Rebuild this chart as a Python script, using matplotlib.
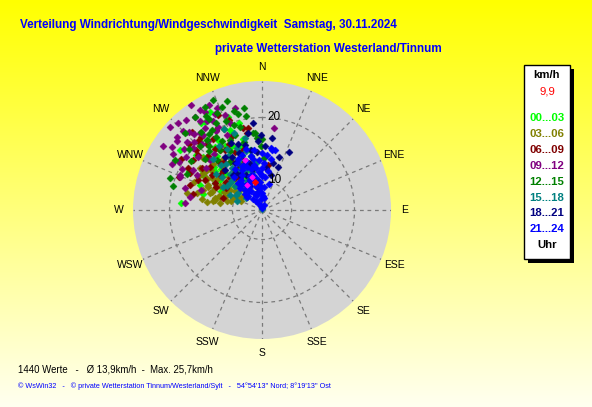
import matplotlib
matplotlib.use("Agg")
import matplotlib.pyplot as plt
import numpy as np
from matplotlib.patches import Rectangle

# wind direction (deg, clockwise from N) and speed (km/h), per 3-hour block
dir_00_03 = [275, 327, 325, 337, 345, 349, 355, 310, 323, 330, 331, 349, 304, 314, 304, 292, 318, 335,
             340, 310, 300, 320, 345, 315, 328, 338, 298, 306, 332, 322, 312, 295, 340, 325, 285,
             315, 325, 335, 320, 310, 330, 342, 305, 318, 328, 338, 312, 300, 322, 334]
spd_00_03 = [18.3, 21.9, 22.2, 18.3, 19.6, 15.0, 9.0, 11.0, 17.8, 14.9, 13.0, 13.0, 11.8, 17.4, 16.8, 16.0, 20.0, 16.5,
             21.0, 19.0, 14.0, 15.0, 17.0, 13.5, 11.5, 12.0, 18.5, 21.5, 23.0, 19.5, 15.5, 12.5, 14.5, 9.5, 15.0,
             14.5, 13.0, 14.0, 16.5, 15.0, 17.0, 16.0, 13.5, 12.0, 18.5, 19.0, 18.0, 16.0, 10.5, 11.0]

dir_03_06 = [285, 282, 302, 293, 303, 281, 287, 298, 304, 284, 299, 295, 289, 290, 296, 300, 306, 310, 308, 292,
             288, 280, 278, 284, 292, 305, 312, 315, 318, 301, 297, 313, 283, 279, 294, 307, 320, 286, 311, 322,
             305, 298, 310, 290, 300, 315, 295, 305, 288]
spd_03_06 = [16.0, 12.9, 11.3, 14.7, 14.7, 13.2, 12.3, 9.6, 17.2, 13.0, 15.3, 13.6, 15.2, 11.5, 12.0, 13.0, 12.5, 13.5, 15.5, 17.0,
             14.0, 15.0, 14.2, 11.0, 10.2, 10.5, 11.0, 12.8, 14.5, 16.5, 16.8, 16.0, 17.5, 12.0, 9.0, 9.0, 12.0, 10.5, 17.8, 15.5,
             14.0, 11.5, 12.0, 13.8, 15.5, 10.0, 14.8, 16.2, 12.5]

dir_06_09 = [297, 289, 287, 350, 317, 314, 325, 332, 349, 342, 306, 300, 311, 347, 8, 320, 310, 305, 315, 322,
             328, 335, 338, 330, 318, 312, 302, 295, 300, 308, 320, 326, 292, 315, 325, 340, 335, 296, 283, 344,
             318, 328, 310, 322, 333, 305, 315, 325, 298, 302, 338, 330, 312, 320]
spd_06_09 = [18.2, 17.4, 11.8, 18.5, 20.2, 17.2, 16.9, 12.1, 17.8, 15.3, 18.9, 18.8, 18.7, 18.7, 12.5, 19.0, 16.0, 15.0, 14.0, 15.0,
             14.5, 15.5, 18.0, 20.0, 22.0, 21.0, 20.5, 16.5, 14.0, 12.5, 12.0, 11.5, 19.5, 17.5, 19.0, 20.5, 22.0, 13.5, 16.5, 13.0,
             15.5, 16.5, 14.0, 17.5, 17.0, 17.0, 12.5, 13.0, 15.5, 12.0, 14.0, 12.8, 19.5, 20.5]

dir_09_12 = [326, 330, 334, 339, 328, 331, 311, 309, 312, 317, 321, 325, 332, 330, 8, 297, 292, 280, 297, 293,
             275, 318, 322, 315, 305, 300, 310, 320, 324, 316, 333, 336, 340, 302, 298, 307, 314, 286, 288, 327,
             319, 335, 303, 312, 345, 318, 325, 312, 308, 322, 328, 315, 305, 300]
spd_09_12 = [25.5, 23.3, 22.3, 21.5, 21.9, 21.5, 23.1, 22.7, 21.4, 22.2, 21.0, 21.2, 20.3, 19.8, 18.5, 21.3, 19.3, 16.9, 19.5, 19.5,
             17.6, 19.5, 19.2, 20.5, 20.0, 18.0, 18.5, 24.0, 23.5, 24.5, 24.0, 23.0, 20.0, 22.0, 17.0, 16.5, 16.8, 18.0, 15.5, 17.5,
             17.0, 18.5, 24.0, 25.0, 22.0, 21.5, 22.5, 20.0, 21.0, 20.5, 24.0, 23.0, 22.8, 20.5]

dir_12_15 = [339, 350, 289, 300, 0, 355, 350, 344, 335, 329, 328, 356, 353, 359, 345, 340, 335, 330, 325, 320,
             332, 338, 345, 322, 316, 310, 305, 312, 318, 326, 334, 342, 336, 331, 324, 296, 285, 2, 348, 315,
             332, 338, 328, 342, 322, 335, 346, 318, 330, 325]
spd_12_15 = [22.9, 21.8, 20.7, 21.3, 16.6, 17.6, 20.4, 21.6, 22.3, 22.7, 20.3, 16.8, 17.6, 15.5, 19.0, 18.0, 19.5, 18.0, 17.0, 18.5,
             16.0, 15.0, 16.5, 21.0, 19.5, 20.5, 19.0, 17.5, 16.0, 14.5, 13.5, 23.5, 24.5, 24.0, 23.5, 18.5, 20.0, 13.6, 14.0, 22.5,
             21.0, 20.5, 19.0, 19.5, 19.5, 17.5, 21.0, 18.0, 22.0, 20.0]

dir_15_18 = [0, 320, 295, 305, 330, 340, 335, 325, 315, 345, 310, 300, 338, 328, 318, 350, 340, 312, 322, 332,
             308, 345, 300, 290, 335, 326, 316, 354, 347, 305,
             318, 328, 336, 310, 322, 330, 342, 305, 315, 325]
spd_15_18 = [5.5, 9.5, 10.9, 10.0, 12.5, 18.3, 14.0, 13.5, 12.0, 11.5, 13.5, 12.5, 16.0, 15.5, 15.0, 9.0, 8.0, 11.0, 11.0, 10.5,
             14.5, 15.0, 10.0, 9.5, 19.5, 17.5, 16.5, 13.0, 17.0, 8.5,
             13.0, 12.5, 12.0, 12.0, 14.5, 16.5, 13.0, 12.0, 10.5, 10.0]

dir_18_21 = [354, 359, 25, 18, 13, 357, 8, 20, 3, 350, 345, 338, 330, 340, 325, 335, 348, 320, 355, 342,
             328, 15, 5, 352, 333, 317,
             335, 325, 345, 330, 340, 350, 320, 338, 348]
spd_18_21 = [19.2, 17.2, 15.5, 14.2, 13.0, 16.2, 16.8, 12.5, 15.5, 17.8, 16.0, 15.0, 14.0, 13.0, 15.5, 17.0, 12.0, 12.5, 14.5, 11.0,
             11.8, 11.0, 12.0, 10.0, 9.5, 14.0,
             11.5, 12.5, 12.8, 15.0, 16.5, 15.0, 11.0, 10.5, 9.0]

dir_21_24 = [0, 345, 20, 330, 355, 10, 320, 340, 0, 350, 310, 330, 5, 345, 320, 355, 335, 315, 350, 0,
             340, 325, 355, 8, 330, 345, 320, 350, 3, 338, 326, 356, 342, 10, 332, 348, 0, 340, 352, 8,
             345, 12, 335, 318, 312, 325, 350, 5, 15, 358, 336, 328, 344, 352, 333, 9, 5,
             338, 330, 345, 325, 350, 335, 322, 340, 315, 0, 358, 5]
spd_21_24 = [5.6, 6.0, 6.2, 6.5, 7.0, 7.2, 7.5, 7.8, 8.0, 8.3, 8.5, 8.8, 9.0, 9.2, 9.5, 9.8, 10.0, 10.3, 10.5, 10.7,
             11.0, 11.2, 11.4, 11.6, 11.8, 12.0, 12.2, 12.5, 12.7, 12.9, 13.1, 13.3, 13.5, 13.6, 13.8, 14.0, 14.3, 14.6, 14.9, 15.2,
             15.4, 15.0, 14.2, 11.0, 9.0, 7.0, 6.0, 7.5, 9.5, 11.0, 8.0, 10.0, 10.8, 12.0, 12.4, 15.0, 14.0,
             10.5, 9.5, 11.0, 9.0, 13.5, 13.0, 10.5, 12.5, 8.5, 12.0, 9.0, 10.5]

dir_extra = [343, 341, 329]
spd_extra = [10.8, 13.7, 9.9]
dir_now = [346]
spd_now = [9.9]

hour_labels = ["00...03", "03...06", "06...09", "09...12", "12...15", "15...18", "18...21", "21...24"]
hour_colors = ["#00ff00", "#808000", "#800000", "#800080", "#008000", "#008080", "#000080", "#0000ff"]
compass = ["N", "NNE", "NE", "ENE", "E", "ESE", "SE", "SSE",
           "S", "SSW", "SW", "WSW", "W", "WNW", "NW", "NNW"]
ring_values = [10, 20]

groups = [
    (dir_00_03, spd_00_03), (dir_03_06, spd_03_06), (dir_06_09, spd_06_09),
    (dir_09_12, spd_09_12), (dir_12_15, spd_12_15), (dir_15_18, spd_15_18),
    (dir_18_21, spd_18_21), (dir_21_24, spd_21_24),
]

r_min, r_max = 5.3, 25.8
W, H = 592, 407

fig = plt.figure(figsize=(5.92, 4.07), dpi=100)

# yellow background gradient
bg = fig.add_axes([0, 0, 1, 1])
grad = np.linspace(0, 1, 256)
img = np.ones((256, 1, 3))
img[:, 0, 2] = 0.94 * grad
bg.imshow(img, aspect="auto", extent=[0, 1, 0, 1], origin="upper")
bg.set_xlim(0, 1)
bg.set_ylim(0, 1)
bg.axis("off")

ax = fig.add_axes([0.2247, 0.1671, 0.4358, 0.6339], projection="polar")
ax.set_theta_zero_location("N")
ax.set_theta_direction(-1)
ax.set_ylim(r_min, r_max)
ax.set_facecolor("#d4d4d4")
ax.spines["polar"].set_visible(False)
ax.set_thetagrids(np.arange(0, 360, 22.5), labels=[""] * 16)
ax.set_rgrids(ring_values, labels=[""] * len(ring_values))
ax.grid(color="#7a7a7a", linestyle=(0, (3, 3)), linewidth=0.9)
ax.tick_params(axis="both", length=0)

for (d, s), col in zip(groups, hour_colors):
    ax.scatter(np.deg2rad(d), s, marker="D", s=13, color=col, edgecolors=col,
               linewidths=0.3, zorder=3)
ax.scatter(np.deg2rad(dir_extra), spd_extra, marker="D", s=6, color="#ff00ff", zorder=4)
ax.scatter(np.deg2rad(dir_now), spd_now, marker="D", s=8, color="#ff0000", zorder=4)

# compass labels
for i, name in enumerate(compass):
    ax.text(np.deg2rad(i * 22.5), 28.0, name, ha="center", va="center",
            fontsize=7.5, family="Liberation Sans", clip_on=False)

for v in ring_values:
    ax.annotate(str(v), xy=(0, v), xytext=(4, 0), textcoords="offset points",
                ha="left", va="center", fontsize=8.5, family="Liberation Sans")

# titles
fig.text(20 / W, 1 - 25 / H, "Verteilung Windrichtung/Windgeschwindigkeit  Samstag, 30.11.2024",
         color="#0000ff", fontsize=8.4, fontweight="bold", family="Liberation Sans",
         ha="left", va="center")
fig.text(215 / W, 1 - 49 / H, "private Wetterstation Westerland/Tinnum",
         color="#0000ff", fontsize=8.4, fontweight="bold", family="Liberation Sans",
         ha="left", va="center")

fig.text(18 / W, 1 - 369 / H, "1440 Werte   -   Ø 13,9km/h  -  Max. 25,7km/h",
         color="black", fontsize=6.9, family="Liberation Sans", ha="left", va="center")
fig.text(18 / W, 1 - 386 / H,
         "© WsWin32   -   © private Wetterstation Tinnum/Westerland/Sylt   -   54°54'13'' Nord; 8°19'13'' Ost",
         color="#0000ff", fontsize=5.2, family="Liberation Sans", ha="left", va="center")

# legend box with shadow
bx0, by0, bw, bh = 524, 65, 46, 194
fig.patches.append(Rectangle(((bx0 + 4) / W, 1 - (by0 + bh + 4) / H), bw / W, bh / H,
                             transform=fig.transFigure, facecolor="black", edgecolor="none", zorder=1))
fig.patches.append(Rectangle((bx0 / W, 1 - (by0 + bh) / H), bw / W, bh / H,
                             transform=fig.transFigure, facecolor="white", edgecolor="black",
                             linewidth=1, zorder=2))
cx = 547 / W
fig.text(cx, 1 - 75 / H, "km/h", fontsize=8.2, fontweight="bold", family="Liberation Sans",
         ha="center", va="center", zorder=3)
fig.text(cx, 1 - 92 / H, "9,9", fontsize=8.2, color="#ff0000", family="Liberation Sans",
         ha="center", va="center", zorder=3)
for i, (lab, col) in enumerate(zip(hour_labels, hour_colors)):
    fig.text(cx, 1 - (118.3 + i * 15.85) / H, lab, fontsize=8.2, fontweight="bold", color=col,
             family="Liberation Sans", ha="center", va="center", zorder=3)
fig.text(cx, 1 - 245.5 / H, "Uhr", fontsize=8.2, fontweight="bold", family="Liberation Sans",
         ha="center", va="center", zorder=3)

fig.savefig("out.png", dpi=100)
